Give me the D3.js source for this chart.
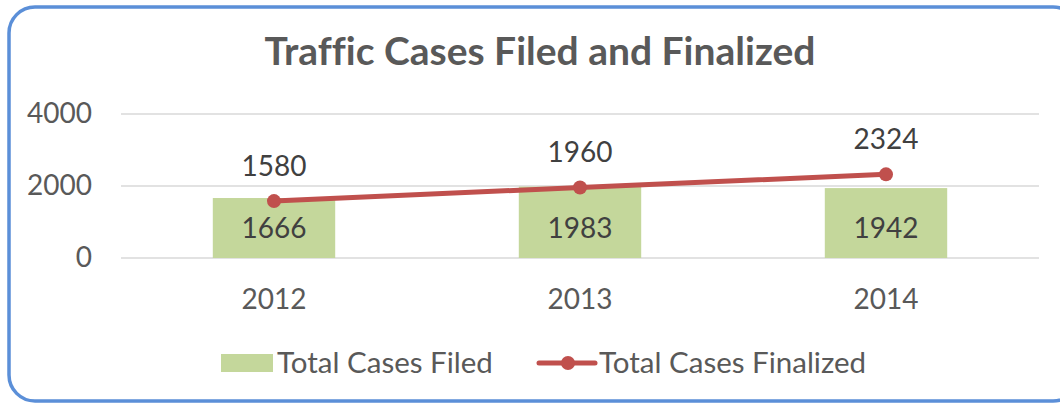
<!DOCTYPE html>
<html>
<head>
<meta charset="utf-8">
<script src="https://cdn.jsdelivr.net/npm/d3@7"></script>
<style>
  body { margin: 0; background: #fff; }
  svg { display: block; font-family: Lato, "Open Sans", sans-serif; font-variant-ligatures: none; }
</style>
</head>
<body>
<div id="chart"></div>
<script>
var years = ["2012", "2013", "2014"];
var casesFiled = [1666, 1983, 1942];
var casesFinalized = [1580, 1960, 2324];
var yTicks = [0, 2000, 4000];

var width = 1060;
var height = 404;

var svg = d3.select("#chart")
  .append("svg")
  .attr("width", width)
  .attr("height", height);

// outer rounded frame
svg.append("rect")
  .attr("x", 9)
  .attr("y", 7)
  .attr("width", 1070)
  .attr("height", 394)
  .attr("rx", 26)
  .attr("fill", "#fff")
  .attr("stroke", "#5b8fd8")
  .attr("stroke-width", 3.5);

svg.append("text")
  .attr("x", 540)
  .attr("y", 65)
  .attr("text-anchor", "middle")
  .attr("fill", "#595959")
  .attr("font-weight", "bold")
  .attr("font-size", 39)
  .text("Traffic Cases Filed and Finalized");

var x = d3.scaleBand()
  .domain(years)
  .range([121, 1039]);

var y = d3.scaleLinear()
  .domain([0, 4000])
  .range([258, 114]);

// gridlines
svg.append("g")
  .selectAll("line")
  .data(yTicks)
  .enter()
  .append("line")
  .attr("x1", 121)
  .attr("x2", 1039)
  .attr("y1", function (d) { return y(d); })
  .attr("y2", function (d) { return y(d); })
  .attr("stroke", "#d9d9d9")
  .attr("stroke-width", 1.5);

var yAxis = svg.append("g")
  .attr("transform", "translate(92,0)")
  .call(d3.axisLeft(y).tickValues(yTicks).tickFormat(d3.format("d")).tickSize(0).tickPadding(0));
yAxis.select(".domain").remove();
yAxis.selectAll("text")
  .attr("font-family", "Lato, sans-serif")
  .attr("font-size", 28)
  .attr("fill", "#595959");

var xAxis = svg.append("g")
  .attr("transform", "translate(0,258)")
  .call(d3.axisBottom(x).tickSize(0).tickPadding(31));
xAxis.select(".domain").remove();
xAxis.selectAll("text")
  .attr("font-family", "Lato, sans-serif")
  .attr("font-size", 28)
  .attr("fill", "#595959");

var barW = x.bandwidth() * 0.4;

svg.append("g")
  .selectAll("rect")
  .data(casesFiled)
  .enter()
  .append("rect")
  .attr("x", function (d, i) { return x(years[i]) + x.bandwidth() / 2 - barW / 2; })
  .attr("y", function (d) { return y(d); })
  .attr("width", barW)
  .attr("height", function (d) { return y(0) - y(d); })
  .attr("fill", "#c4d79b");

// labels sit at the inside base of the bars
svg.append("g")
  .selectAll("text")
  .data(casesFiled)
  .enter()
  .append("text")
  .attr("x", function (d, i) { return x(years[i]) + x.bandwidth() / 2; })
  .attr("y", y(0) - 30)
  .attr("dy", "0.35em")
  .attr("text-anchor", "middle")
  .attr("font-size", 28)
  .attr("fill", "#404040")
  .text(function (d) { return d; });

var line = d3.line()
  .x(function (d, i) { return x(years[i]) + x.bandwidth() / 2; })
  .y(function (d) { return y(d); });

svg.append("path")
  .datum(casesFinalized)
  .attr("fill", "none")
  .attr("stroke", "#c0504d")
  .attr("stroke-width", 5)
  .attr("d", line);

svg.append("g")
  .selectAll("circle")
  .data(casesFinalized)
  .enter()
  .append("circle")
  .attr("cx", function (d, i) { return x(years[i]) + x.bandwidth() / 2; })
  .attr("cy", function (d) { return y(d); })
  .attr("r", 7)
  .attr("fill", "#c0504d");

svg.append("g")
  .selectAll("text")
  .data(casesFinalized)
  .enter()
  .append("text")
  .attr("x", function (d, i) { return x(years[i]) + x.bandwidth() / 2; })
  .attr("y", function (d) { return y(d) - 35; })
  .attr("dy", "0.35em")
  .attr("text-anchor", "middle")
  .attr("font-size", 28)
  .attr("fill", "#404040")
  .text(function (d) { return d; });

// legend
var legend = svg.append("g").attr("font-size", 29.5).attr("fill", "#595959");
legend.append("rect")
  .attr("x", 221).attr("y", 354)
  .attr("width", 52).attr("height", 18)
  .attr("fill", "#c4d79b");
legend.append("text")
  .attr("x", 277).attr("y", 363).attr("dy", "0.35em")
  .text("Total Cases Filed");
legend.append("line")
  .attr("x1", 539).attr("x2", 595)
  .attr("y1", 363).attr("y2", 363)
  .attr("stroke", "#c0504d").attr("stroke-width", 5)
  .attr("stroke-linecap", "round");
legend.append("circle")
  .attr("cx", 568).attr("cy", 363).attr("r", 7)
  .attr("fill", "#c0504d");
legend.append("text")
  .attr("x", 599).attr("y", 363).attr("dy", "0.35em")
  .text("Total Cases Finalized");
</script>
</body>
</html>
